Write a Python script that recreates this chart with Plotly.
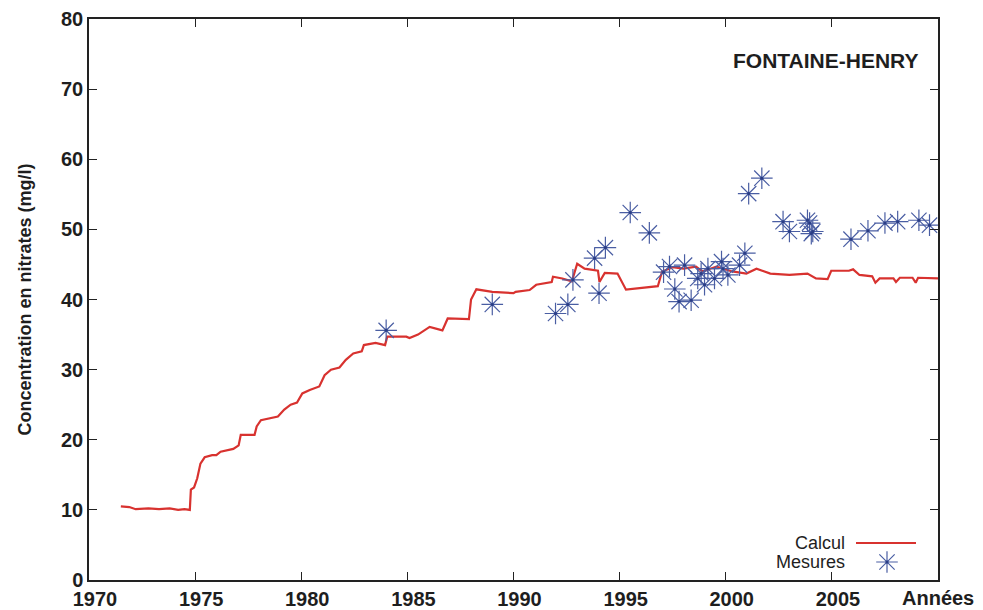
import plotly.graph_objects as go

# Calculated concentration (Calcul)
calc_years = [1971.5, 1971.9, 1972.2, 1972.8, 1973.3, 1973.8, 1974.2, 1974.5, 1974.75,
              1974.8, 1974.95, 1975.1, 1975.25, 1975.45, 1975.8, 1976.0, 1976.2, 1976.8,
              1977.05, 1977.15, 1977.8, 1977.9, 1978.1, 1978.9, 1979.2, 1979.5, 1979.8,
              1980.05, 1980.4, 1980.85, 1981.1, 1981.4, 1981.8, 1982.1, 1982.45, 1982.85,
              1982.95, 1983.5, 1983.95, 1984.05, 1984.95, 1985.1, 1985.5, 1986.05, 1986.65,
              1986.9, 1987.9, 1988.0, 1988.25, 1989.0, 1990.0, 1990.1, 1990.76, 1991.07,
              1991.8, 1991.86, 1992.3, 1992.75, 1993.0, 1993.35, 1993.98, 1994.05, 1994.3,
              1994.9, 1995.3, 1995.9, 1996.8, 1997.0, 1997.5, 1998.0, 1998.6, 1998.9,
              1999.56, 2000.3, 2000.97, 2001.45, 2002.1, 2003.0, 2003.85, 2004.25, 2004.8,
              2004.97, 2005.8, 2006.0, 2006.3, 2006.9, 2007.05, 2007.25, 2007.9, 2008.02,
              2008.2, 2008.8, 2008.95, 2009.06, 2010.0]
calc_values = [10.5, 10.4, 10.1, 10.2, 10.1, 10.2, 10.0, 10.1, 10.0,
               12.9, 13.2, 14.5, 16.6, 17.5, 17.8, 17.8, 18.3, 18.7,
               19.2, 20.7, 20.7, 21.9, 22.8, 23.3, 24.3, 25.0, 25.3,
               26.6, 27.1, 27.6, 29.2, 30.0, 30.3, 31.4, 32.3, 32.6,
               33.5, 33.8, 33.5, 34.7, 34.7, 34.5, 35.0, 36.1, 35.6,
               37.3, 37.2, 40.0, 41.45, 41.1, 40.9, 41.1, 41.35, 42.1,
               42.5, 43.25, 43.0, 42.6, 45.1, 44.4, 44.1, 42.5, 43.8,
               43.7, 41.4, 41.6, 41.9, 44.0, 44.6, 44.4, 44.7, 44.0,
               44.7, 44.0, 43.7, 44.4, 43.7, 43.5, 43.7, 43.0, 42.9,
               44.1, 44.1, 44.3, 43.5, 43.3, 42.4, 43.0, 43.0, 42.5,
               43.1, 43.1, 42.4, 43.1, 43.0]

# Measurements (Mesures)
meas_years = [1984.0, 1989.0, 1991.98, 1992.56, 1992.8, 1993.82, 1994.03, 1994.33,
              1995.5, 1996.4, 1997.07, 1997.35, 1997.6, 1997.8, 1998.06, 1998.37,
              1998.68, 1998.84, 1999.0, 1999.16, 1999.47, 1999.8, 1999.87, 2000.1,
              2000.65, 2000.9, 2001.08, 2001.7, 2002.7, 2003.0, 2003.85, 2003.95,
              2004.03, 2004.1, 2005.9, 2006.7, 2007.5, 2008.1, 2009.1, 2009.6]
meas_values = [35.6, 39.3, 38.0, 39.3, 42.8, 45.9, 40.9, 47.4,
               52.4, 49.5, 43.9, 44.7, 41.5, 39.7, 44.9, 39.9,
               43.0, 43.7, 42.1, 44.4, 43.0, 45.4, 44.4, 43.5,
               44.9, 46.6, 55.1, 57.3, 51.1, 49.7, 51.3, 50.9,
               49.4, 49.7, 48.6, 49.8, 50.9, 51.1, 51.3, 50.6]

x_tickvals = [1970, 1975, 1980, 1985, 1990, 1995, 2000, 2005, 2010]
x_ticktext = ["1970", "1975", "1980", "1985", "1990", "1995", "2000", "2005", ""]
x_axis_label = "Années"
y_tickvals = [0, 10, 20, 30, 40, 50, 60, 70, 80]

RED = "#d8322f"
BLUE = "#4a5ea3"
DOT = "#2a3d85"
FONT = "Liberation Sans"
TXT = "#1e1e1e"

star = dict(symbol="asterisk-open", size=18, color=BLUE,
            line=dict(color=BLUE, width=1.2))

fig = go.Figure()
fig.add_trace(go.Scatter(x=calc_years, y=calc_values, mode="lines",
                         line=dict(color=RED, width=2.2), name="Calcul",
                         showlegend=False))
fig.add_trace(go.Scatter(x=meas_years, y=meas_values, mode="markers",
                         marker=star, name="Mesures", showlegend=False))
# small centre dots for asterisks
fig.add_trace(go.Scatter(x=meas_years, y=meas_values, mode="markers",
                         marker=dict(symbol="circle", size=3, color=DOT),
                         showlegend=False, hoverinfo="skip"))

# plot area in figure pixels (page adds an 8px body margin)
L, R, T, B = 81, 930, 11, 572
PW, PH = R - L, B - T


def px(x):
    return (x - 8 - L) / PW


def py(y):
    return (B - (y - 8)) / PH


# Legend key (drawn manually, text left of sample)
fig.add_trace(go.Scatter(x=[px(887)], y=[py(562)], xaxis="x2", yaxis="y2",
                         mode="markers", marker=star,
                         showlegend=False, hoverinfo="skip"))
fig.add_trace(go.Scatter(x=[px(887)], y=[py(562)], xaxis="x2", yaxis="y2",
                         mode="markers",
                         marker=dict(symbol="circle", size=3, color=DOT),
                         showlegend=False, hoverinfo="skip"))

fig.add_shape(type="line", xref="paper", yref="paper",
              x0=px(856), x1=px(916), y0=py(543), y1=py(543),
              line=dict(color=RED, width=2.2))
fig.add_annotation(text="Calcul", xref="paper", yref="paper",
                   x=px(847), y=py(543),
                   xanchor="right", yanchor="middle", showarrow=False,
                   font=dict(family=FONT, size=18, color=TXT))
fig.add_annotation(text="Mesures", xref="paper", yref="paper",
                   x=px(847), y=py(562),
                   xanchor="right", yanchor="middle", showarrow=False,
                   font=dict(family=FONT, size=18, color=TXT))
fig.add_annotation(text="FONTAINE-HENRY", xref="paper", yref="paper",
                   x=px(826), y=py(60),
                   xanchor="center", yanchor="middle", showarrow=False,
                   font=dict(family=FONT, size=21, color=TXT, weight="bold"))
fig.add_annotation(text=x_axis_label, xref="x", yref="paper",
                   x=2010, y=py(598),
                   xanchor="center", yanchor="middle", showarrow=False,
                   font=dict(family=FONT, size=20, color=TXT, weight="bold"))

axis_common = dict(showgrid=False, zeroline=False, showline=True,
                   linecolor="#222", linewidth=1.5, mirror="ticks",
                   ticks="inside", ticklen=8, tickwidth=1.2, tickcolor="#222",
                   automargin=False,
                   tickfont=dict(family=FONT, size=20, color=TXT, weight="bold"))

fig.update_layout(
    width=975, height=602,
    margin=dict(l=L, r=975 - R, t=T, b=602 - B),
    paper_bgcolor="white", plot_bgcolor="white",
    showlegend=False,
    xaxis=dict(range=[1970, 2010], tickvals=x_tickvals, ticktext=x_ticktext,
               ticklabelshift=6, **axis_common),
    yaxis=dict(range=[0, 80], tickvals=y_tickvals,
               title=dict(text="Concentration en nitrates (mg/l)", standoff=25,
                          font=dict(family=FONT, size=18, color=TXT, weight="bold")),
               **axis_common),
    xaxis2=dict(range=[0, 1], overlaying="x", visible=False),
    yaxis2=dict(range=[0, 1], overlaying="y", visible=False),
)

fig.write_html("out.html")
